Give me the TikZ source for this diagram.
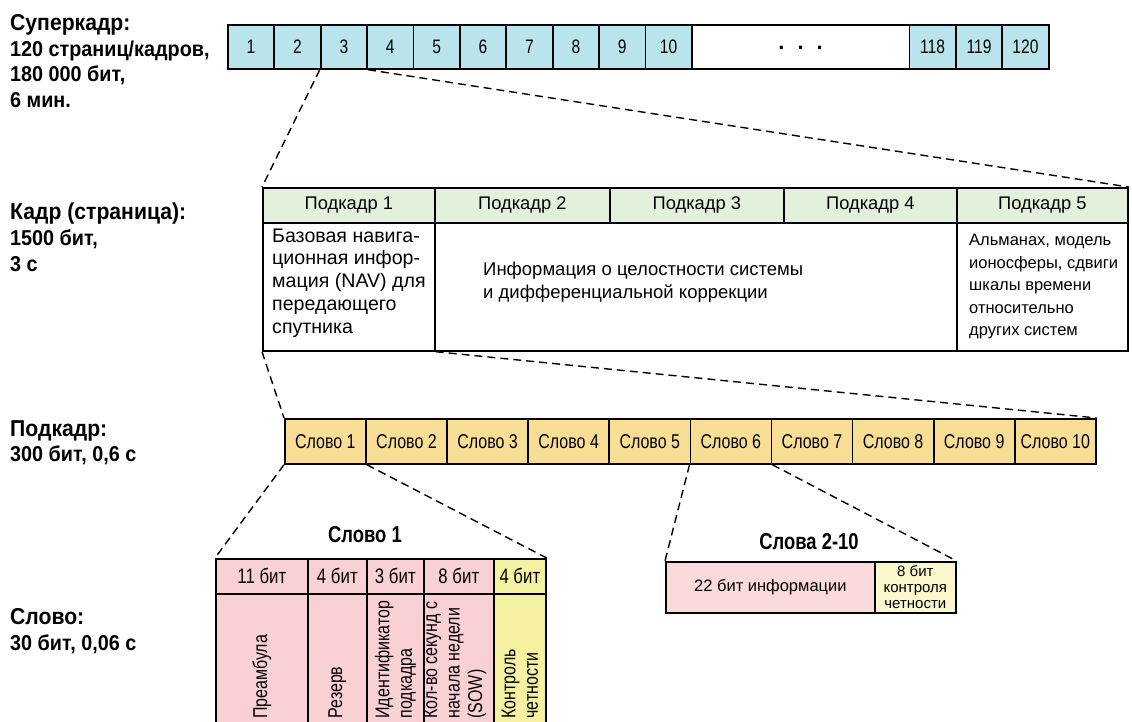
\documentclass[tikz,border=0pt]{standalone}
\usepackage{fontspec}
\setmainfont{Liberation Sans}
\newfontfamily\condfont{Liberation Sans}[FakeStretch=0.8]
\newfontfamily\labelfont{Liberation Sans}[FakeStretch=0.92]
\usepackage{tikz}
\usetikzlibrary{positioning}

\definecolor{sfblue}{HTML}{B9E4EB}
\definecolor{frgreen}{HTML}{E3F0DC}
\definecolor{swyellow}{HTML}{F8DE95}
\definecolor{bitpink}{HTML}{F9D0D3}
\definecolor{bityellow}{HTML}{F5F1A0}
\definecolor{infopink}{HTML}{FADADB}
\definecolor{infoyellow}{HTML}{FBF7CC}

\newcommand{\fs}[2]{\fontsize{#1}{#2}\selectfont}

\tikzset{
  box/.style={draw, line width=1.7pt, inner sep=0pt, anchor=north west},
  sfcell/.style={box, fill=sfblue, minimum width=46.4pt, minimum height=44pt, font=\condfont\fs{19.5}{20}},
  frhead/.style={box, fill=frgreen, minimum height=35pt, font=\fs{18.3}{20}},
  frbody/.style={box, minimum height=128pt},
  bodytext/.style={anchor=west, inner sep=0pt, align=left, font=\fs{18.5}{22.75}},
  swcell/.style={box, fill=swyellow, minimum width=81.1pt, minimum height=45pt, font=\condfont\fs{20}{20}},
  bithead/.style={box, fill=bitpink, minimum height=35pt, font=\condfont\fs{21}{20}},
  bitbody/.style={box, fill=bitpink, minimum height=131pt},
  vtext/.style={rotate=90, anchor=west, inner sep=0pt, align=left, font=\condfont\fs{20}{22.5}},
  wordtitle/.style={inner sep=0pt, font=\condfont\bfseries\fs{23}{22}},
  zoomline/.style={dash pattern=on 8pt off 5pt, line width=1.4pt},
  levelname/.style={anchor=north west, inner sep=0pt, align=left, font=\labelfont\bfseries\fs{21.5}{25.8}},
}

\begin{document}
\begin{tikzpicture}[x=1pt, y=-1pt]
  \useasboundingbox (0,0) rectangle (1132,721);
  \clip (0,0) rectangle (1132,721);

  % Level names on the left
  \node[levelname] (lsuper) at (10,14) {{\fs{23}{25.8}Суперкадр:}\\120 страниц/кадров,\\180 000 бит,\\6 мин.};
  \node[levelname] (lframe) at (10,203) {{\fs{23}{25.8}Кадр (страница):}\\1500 бит,\\3 с};
  \node[levelname] (lsub) at (10,420) {{\fs{23}{25.8}Подкадр:}\\300 бит, 0,6 с};
  \node[levelname] (lword) at (10,608) {{\fs{23}{25.8}Слово:}\\30 бит, 0,06 с};

  % Superframe: pages 1..10, gap, 118..120
  \foreach \i in {1,...,10}
    \node[sfcell] (sf\i) at ({227+46.4*(\i-1)},24) {\i};
  \node[box, minimum width=217.6pt, minimum height=44pt, font=\bfseries\fs{22}{20}] (sfdots) at (691,24) {\raisebox{-6pt}{.\hspace{13pt}.\hspace{13pt}.}};
  \foreach \i/\x in {118/908.6, 119/955, 120/1001.4}
    \node[sfcell] (sf\i) at (\x,24) {\i};

  % Frame: five subframes
  \foreach \i/\x/\w in {1/262/172, 2/434/175, 3/609/174, 4/783/173, 5/956/171}
    \node[frhead, minimum width=\w pt] (fh\i) at (\x,187) {Подкадр \i};
  \node[frbody, minimum width=172pt] (fb1) at (262,222) {};
  \node[frbody, minimum width=522pt] (fb2) at (434,222) {};
  \node[frbody, minimum width=171pt] (fb5) at (956,222) {};
  \node[bodytext, font=\fs{19.6}{22.75}] (navtext) at (272,283) {Базовая навига-\\ционная инфор-\\мация (NAV) для\\передающего\\спутника};
  \node[bodytext] (corrtext) at (483,282) {Информация о целостности системы\\и дифференциальной коррекции};
  \node[bodytext, font=\fs{16.5}{22.5}] (almtext) at (969,287) {Альманах, модель\\ионосферы, сдвиги\\шкалы времени\\относительно\\других систем};

  % Subframe: ten words
  \foreach \i in {1,...,10}
    \node[swcell] (sw\i) at ({284+81.1*(\i-1)},418) {Слово \i};

  % Word 1 layout
  \node[wordtitle] (w1title) at (365,535) {Слово 1};
  \foreach \i/\x/\w/\b in {1/215/92/11, 2/307/59/4, 3/366/57/3, 4/423/70/8}
    \node[bithead, minimum width=\w pt] (wh\i) at (\x,558) {\b~бит};
  \node[bithead, fill=bityellow, minimum width=52pt] (wh5) at (493,558) {4 бит};
  \foreach \i/\x/\w in {1/215/92, 2/307/59, 3/366/57, 4/423/70}
    \node[bitbody, minimum width=\w pt] (wb\i) at (\x,593) {};
  \node[bitbody, fill=bityellow, minimum width=52pt] (wb5) at (493,593) {};
  \node[vtext] (preamble) at ([yshift=7pt]wb1.south) {Преамбула};
  \node[vtext] (reserve) at ([yshift=7pt]wb2.south) {Резерв};
  \node[vtext] (subid) at ([yshift=7pt]wb3.south) {Идентификатор\\подкадра};
  \node[vtext] (sow) at ([xshift=-4pt, yshift=7pt]wb4.south) {Кол-во секунд с\\начала недели\\(SOW)};
  \node[vtext] (parity) at ([yshift=7pt]wb5.south) {Контроль\\четности};

  % Words 2-10 layout
  \node[wordtitle] (w2title) at (809,542) {Слова 2-10};
  \node[box, fill=infopink, minimum width=209pt, minimum height=51pt, font=\fs{16.5}{20}] (winfo) at (665,561) {22 бит информации};
  \node[box, fill=infoyellow, minimum width=81pt, minimum height=51pt, align=center, font=\fs{15}{16}] (wpar) at (874,561) {8 бит\\контроля\\четности};

  % Zoom-in lines between levels
  \draw[zoomline] (sf3.south west) -- (fh1.north west);
  \draw[zoomline] (sf3.south east) -- (fh5.north east);
  \draw[zoomline] (fb1.south west) -- (sw1.north west);
  \draw[zoomline] (fb1.south east) -- (sw10.north east);
  \draw[zoomline] (sw1.south west) -- (wh1.north west);
  \draw[zoomline] (sw1.south east) -- (wh5.north east);
  \draw[zoomline] (sw6.south west) -- (winfo.north west);
  \draw[zoomline] (sw6.south east) -- (wpar.north east);
\end{tikzpicture}
\end{document}
